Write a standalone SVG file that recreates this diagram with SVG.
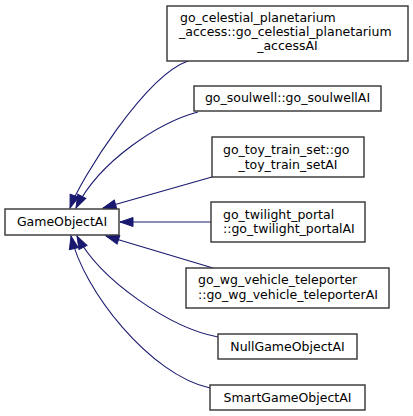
<svg xmlns="http://www.w3.org/2000/svg" width="413" height="416" viewBox="0 0 413 416">
<style>
.node rect{fill:#fff;stroke:#333;stroke-width:1.4}
.node text{font-family:"DejaVu Sans",sans-serif;font-size:12.5px;fill:#000}
.edge{fill:none;stroke:#191970;stroke-width:1.1}
</style>
<defs>
<marker id="arr" markerUnits="userSpaceOnUse" markerWidth="16" markerHeight="16" refX="13" refY="0" orient="auto" overflow="visible" viewBox="-1 -6 16 12">
<path d="M0,-4.5 L13,0 L0,4.5 Z" fill="#191970" stroke="#191970" stroke-width="1"/>
</marker>
</defs>
<rect width="413" height="416" fill="#fff"/>
<g id="connectors">
<path class="edge" marker-end="url(#arr)" d="M188,61 C145,76 80,180 70,208"/>
<path class="edge" marker-end="url(#arr)" d="M198,112 C160,122 100,160 76,208"/>
<path class="edge" marker-end="url(#arr)" d="M212,177 L103,208"/>
<path class="edge" marker-end="url(#arr)" d="M211,222 L120,222"/>
<path class="edge" marker-end="url(#arr)" d="M213,268 L106,236"/>
<path class="edge" marker-end="url(#arr)" d="M218,337 C170,328 100,280 77,236"/>
<path class="edge" marker-end="url(#arr)" d="M210,388 C150,375 83,290 71,236"/>
</g>
<g id="GameObjectAI" class="node">
<rect x="5" y="209" width="114" height="26"/>
<text x="62" y="226" text-anchor="middle">GameObjectAI</text>
</g>
<g id="celestial" class="node">
<rect x="167" y="6" width="241" height="55"/>
<text x="180" y="21.5">go_celestial_planetarium</text>
<text x="179" y="35.5">_access::go_celestial_planetarium</text>
<text x="287.5" y="50" text-anchor="middle">_accessAI</text>
</g>
<g id="soulwell" class="node">
<rect x="194" y="86" width="187" height="25"/>
<text x="287.5" y="102" text-anchor="middle">go_soulwell::go_soulwellAI</text>
</g>
<g id="toytrain" class="node">
<rect x="212" y="137" width="152" height="40"/>
<text x="223" y="154">go_toy_train_set::go</text>
<text x="288" y="168.5" text-anchor="middle">_toy_train_setAI</text>
</g>
<g id="twilight" class="node">
<rect x="211" y="202" width="154" height="40"/>
<text x="223" y="218.5">go_twilight_portal</text>
<text x="223" y="233">::go_twilight_portalAI</text>
</g>
<g id="wg" class="node">
<rect x="186" y="268" width="203" height="40"/>
<text x="198" y="284">go_wg_vehicle_teleporter</text>
<text x="198" y="298.5">::go_wg_vehicle_teleporterAI</text>
</g>
<g id="null" class="node">
<rect x="218" y="334" width="139" height="25"/>
<text x="287.5" y="350.5" text-anchor="middle">NullGameObjectAI</text>
</g>
<g id="smart" class="node">
<rect x="210" y="385" width="155" height="25"/>
<text x="287.5" y="401.5" text-anchor="middle">SmartGameObjectAI</text>
</g>
</svg>
